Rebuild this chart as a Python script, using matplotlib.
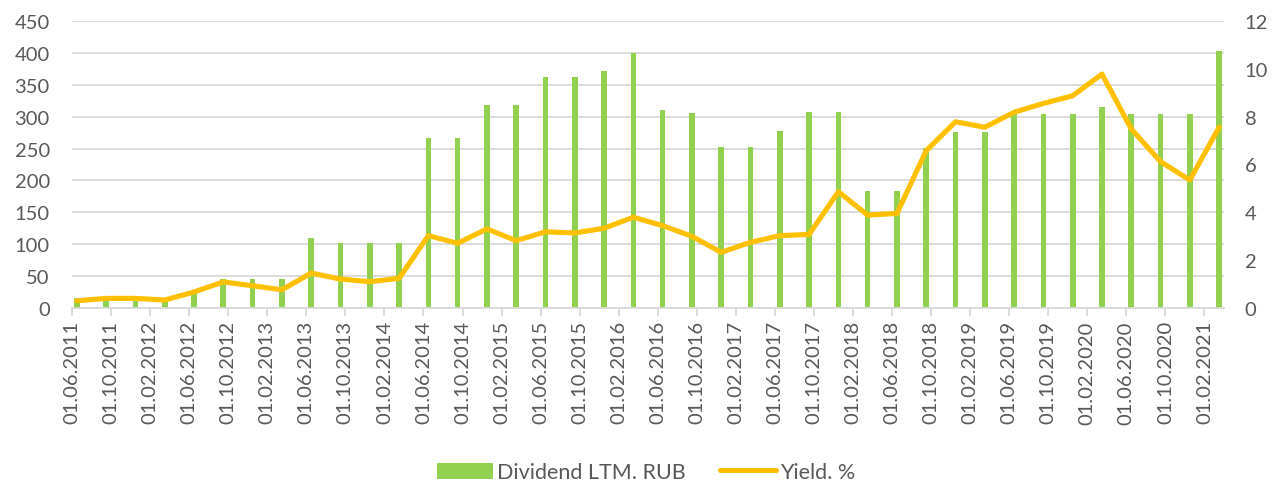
import matplotlib
matplotlib.use("Agg")
import matplotlib.pyplot as plt
from matplotlib.patches import Patch
from matplotlib.lines import Line2D

# ---- data ----
bar_dates = [
    "01.06.2011", "01.09.2011", "01.12.2011", "01.03.2012", "01.06.2012", "01.09.2012",
    "01.12.2012", "01.03.2013", "01.06.2013", "01.09.2013", "01.12.2013", "01.03.2014",
    "01.06.2014", "01.09.2014", "01.12.2014", "01.03.2015", "01.06.2015", "01.09.2015",
    "01.12.2015", "01.03.2016", "01.06.2016", "01.09.2016", "01.12.2016", "01.03.2017",
    "01.06.2017", "01.09.2017", "01.12.2017", "01.03.2018", "01.06.2018", "01.09.2018",
    "01.12.2018", "01.03.2019", "01.06.2019", "01.09.2019", "01.12.2019", "01.03.2020",
    "01.06.2020", "01.09.2020", "01.12.2020", "01.03.2021",
]
dividend_ltm = [
    15, 18, 18, 14, 25, 45, 45, 45, 110, 102, 102, 102,
    267, 267, 318, 318, 362, 362, 372, 400, 310, 306, 253, 253,
    278, 308, 308, 183, 183, 251, 276, 276, 304, 305, 305, 315,
    305, 305, 305, 403,
]
yield_pct = [
    0.29, 0.39, 0.39, 0.32, 0.66, 1.08, 0.92, 0.75, 1.45, 1.20, 1.09, 1.23,
    3.02, 2.70, 3.30, 2.81, 3.18, 3.13, 3.33, 3.79, 3.44, 2.99, 2.32, 2.74,
    3.02, 3.07, 4.86, 3.88, 3.95, 6.58, 7.79, 7.56, 8.19, 8.56, 8.88, 9.79,
    7.49, 6.12, 5.35, 7.56,
]
tick_labels = [
    "01.06.2011", "01.10.2011", "01.02.2012", "01.06.2012", "01.10.2012", "01.02.2013",
    "01.06.2013", "01.10.2013", "01.02.2014", "01.06.2014", "01.10.2014", "01.02.2015",
    "01.06.2015", "01.10.2015", "01.02.2016", "01.06.2016", "01.10.2016", "01.02.2017",
    "01.06.2017", "01.10.2017", "01.02.2018", "01.06.2018", "01.10.2018", "01.02.2019",
    "01.06.2019", "01.10.2019", "01.02.2020", "01.06.2020", "01.10.2020", "01.02.2021",
]
series_names = ["Dividend LTM. RUB", "Yield. %"]

# ---- helpers: month index since June 2011 ----
def month_index(s):
    d, m, y = s.split(".")
    return (int(y) - 2011) * 12 + int(m) - 6

x_bars = [month_index(s) + 0.5 for s in bar_dates]
x_ticks = [month_index(s) for s in tick_labels]
x_end = month_index(bar_dates[-1]) + 1

plt.rcParams["font.family"] = ["Lato", "DejaVu Sans"]
text_color = "#595959"
grid_color = "#D9D9D9"
bar_color = "#92D050"
line_color = "#FFC000"
fs = 14.5

fig = plt.figure(figsize=(12.72, 4.81), dpi=100)
ax = fig.add_axes([72 / 1272, 1 - 308.7 / 481, (1224 - 72) / 1272, (308.7 - 22.3) / 481])
ax2 = ax.twinx()

ax.bar(x_bars, dividend_ltm, width=0.58, color=bar_color, zorder=2)
ax2.plot(x_bars, yield_pct, color=line_color, lw=3.7, solid_joinstyle="round",
         solid_capstyle="round", zorder=3)

ax.set_xlim(0, x_end)
ax.set_ylim(0, 450)
ax.set_yticks(range(0, 451, 50))
ax2.set_ylim(0, 12)
ax2.set_yticks(range(0, 13, 2))

ax.yaxis.grid(True, color=grid_color, lw=1.3, zorder=0)
ax.set_axisbelow(True)

for a in (ax, ax2):
    for sp in ("top", "left", "right"):
        a.spines[sp].set_visible(False)
ax.spines["bottom"].set_color(grid_color)
ax.spines["bottom"].set_linewidth(1.3)
ax2.spines["bottom"].set_visible(False)

ax.set_xticks(x_ticks)
ax.set_xticklabels(tick_labels, rotation=90, fontsize=fs, color=text_color)
ax.tick_params(axis="x", length=6, width=1.3, color=grid_color, pad=3)
ax.tick_params(axis="y", length=0, labelsize=fs, labelcolor=text_color, pad=16)
ax2.tick_params(axis="y", length=0, labelsize=fs, labelcolor=text_color, pad=15)

# put ax (bars) behind line axis
ax.set_zorder(1)
ax2.set_zorder(2)
ax2.patch.set_visible(False)

handles = [
    Patch(facecolor=bar_color, edgecolor="none"),
    Line2D([0], [0], color=line_color, lw=3.7, solid_capstyle="round"),
]
fig.legend(handles, series_names, loc="lower center", bbox_to_anchor=(0.508, -0.045),
           ncol=2, frameon=False, fontsize=15.5, labelcolor=text_color,
           handlelength=2.6, handleheight=0.8, handletextpad=0.2, columnspacing=1.6)

fig.savefig("out.png", dpi=100)
